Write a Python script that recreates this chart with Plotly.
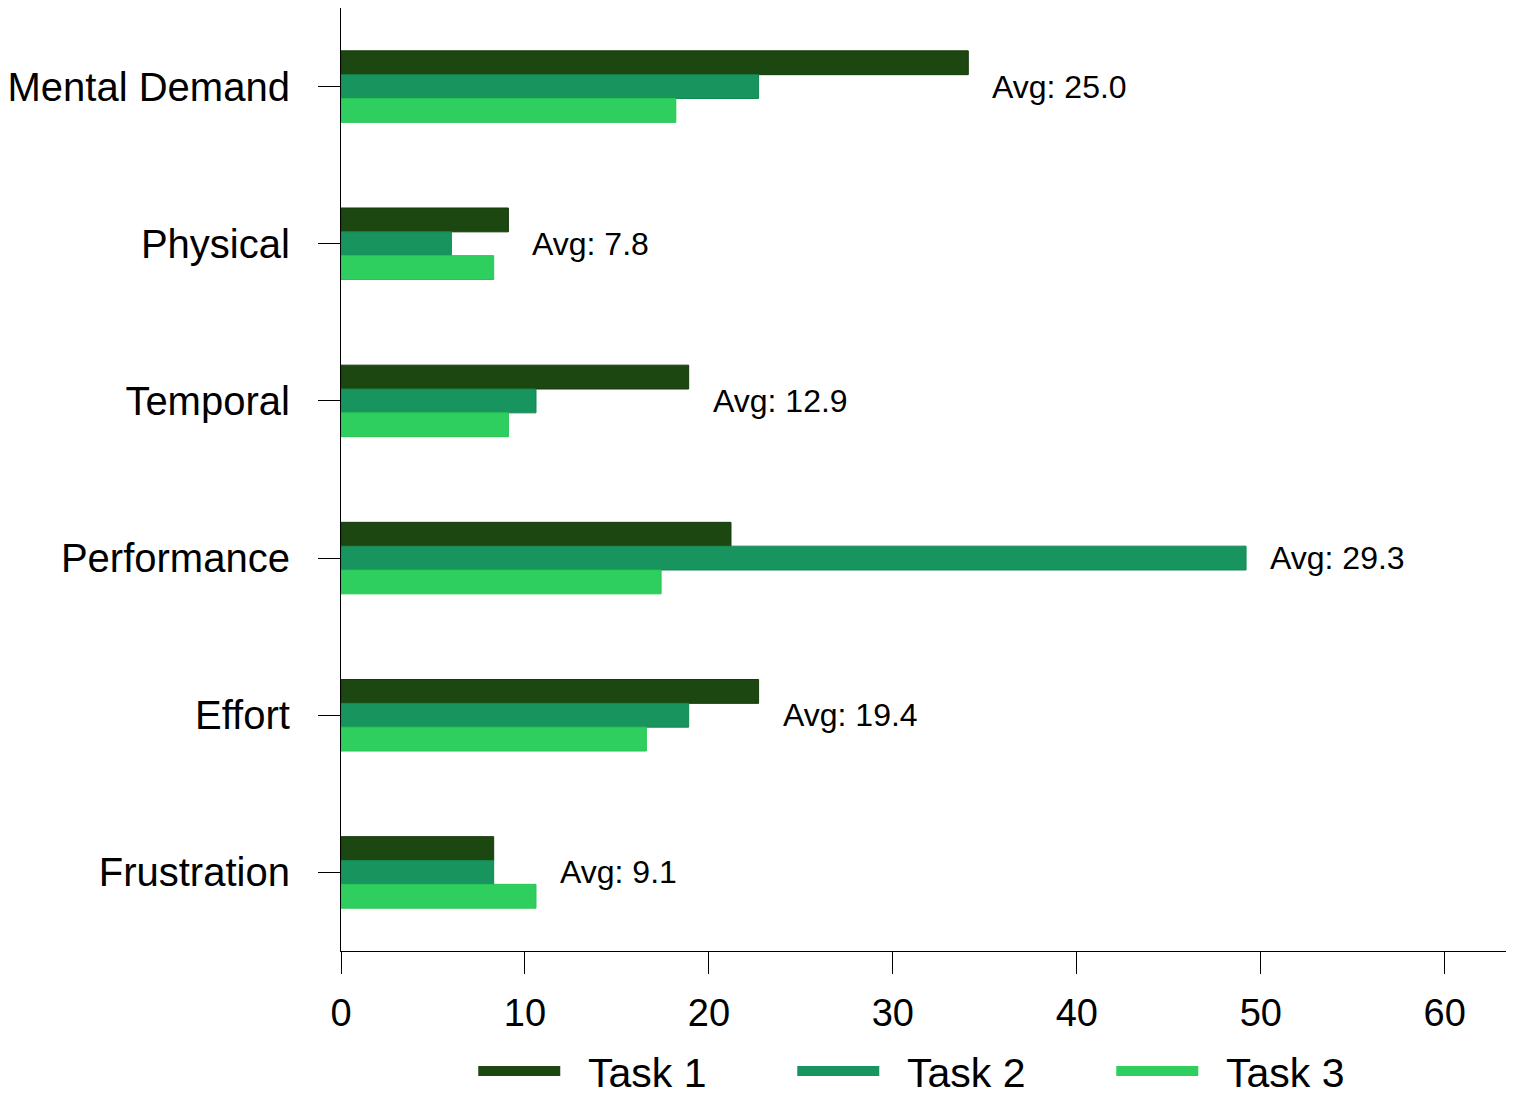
import plotly.graph_objects as go

categories = ["Mental Demand", "Physical", "Temporal", "Performance", "Effort", "Frustration"]
task1 = [34.1, 9.1, 18.9, 21.2, 22.7, 8.3]
task2 = [22.7, 6.0, 10.6, 49.2, 18.9, 8.3]
task3 = [18.2, 8.3, 9.1, 17.4, 16.6, 10.6]
series_names = ["Task 1", "Task 2", "Task 3"]
colors = ["#1d4711", "#18955e", "#2ecf5e"]
line_colors = ["#143a0a", "#13874f", "#27c453"]
x_ticks = [0, 10, 20, 30, 40, 50, 60]

FONT = "Liberation Sans, Arial, Helvetica, sans-serif"

fig = go.Figure()
for name, vals, c, lc in zip(series_names, [task1, task2, task3], colors, line_colors):
    fig.add_trace(go.Bar(
        y=categories, x=vals, name=name, orientation="h",
        marker=dict(color=c, line=dict(color=lc, width=1)),
        showlegend=False, legendgroup=name,
    ))
# legend-only entries with wide swatches
for name, c in zip(series_names, colors):
    fig.add_trace(go.Scatter(
        x=[None], y=[None], mode="lines", name="\u00a0\u00a0" + name, legendgroup=name,
        line=dict(color=c, width=28), showlegend=True,
    ))

for cat, a, b, c in zip(categories, task1, task2, task3):
    avg = (a + b + c) / 3
    fig.add_annotation(
        x=max(a, b, c), y=cat, text=f"Avg: {avg:.1f}",
        showarrow=False, xanchor="left", xshift=22,
        font=dict(size=32, color="black", family=FONT),
    )

fig.update_layout(
    width=1514, height=1118,
    barmode="group", bargap=0.545, bargroupgap=0,
    plot_bgcolor="white", paper_bgcolor="white",
    margin=dict(l=333, r=0, t=0, b=175, autoexpand=False),
    font=dict(family=FONT, size=36, color="black"),
    showlegend=True,
    legend=dict(orientation="h", x=0.112, xanchor="left", y=-0.092, yanchor="top",
                font=dict(size=41), itemwidth=82, traceorder="normal",
                entrywidth=222, entrywidthmode="pixels", tracegroupgap=0),
)
fig.update_xaxes(
    range=[0, 64.2], tickvals=x_ticks, showgrid=False, zeroline=False,
    showline=True, linecolor="black", linewidth=1.2, mirror=True,
    ticks="outside", ticklen=22, tickcolor="black", tickwidth=1.2,
    tickfont=dict(size=38), ticklabelstandoff=6,
)
fig.update_yaxes(
    categoryorder="array", categoryarray=categories, autorange="reversed",
    showgrid=False, zeroline=False,
    showline=True, linecolor="black", linewidth=1.2, mirror=True,
    ticks="outside", ticklen=22, tickcolor="black", tickwidth=1.2,
    tickfont=dict(size=40), ticklabelstandoff=20,
)

fig.write_html("out.html")
